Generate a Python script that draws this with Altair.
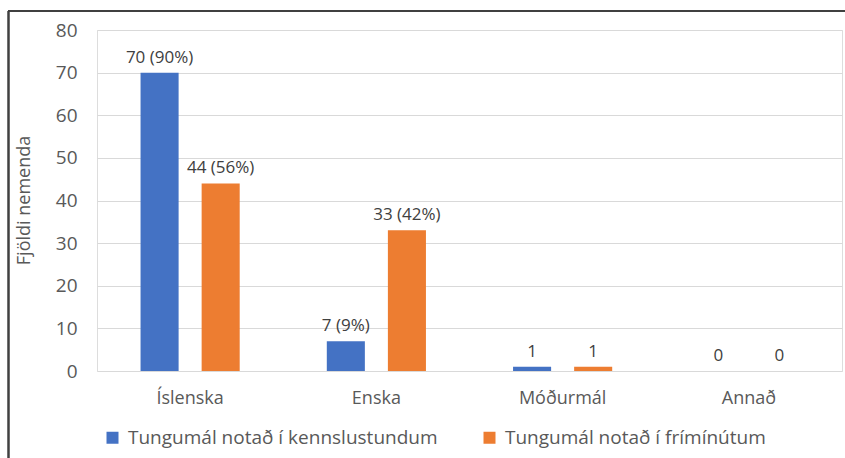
import altair as alt
import pandas as pd

# Languages asked about
categories = ["Íslenska", "Enska", "Móðurmál", "Annað"]
series = ["Tungumál notað í kennslustundum", "Tungumál notað í frímínútum"]

# Number of pupils per language, and share of pupils where reported
kennslustundum = [70, 7, 1, 0]
kennslustundum_pct = [90, 9, None, None]
friminutum = [44, 33, 1, 0]
friminutum_pct = [56, 42, None, None]

colors = ["#4472C4", "#ED7D31"]


def label(v, p):
    return f"{v} ({p}%)" if p is not None else f"{v}"


rows = []
for name, vals, pcts in [(series[0], kennslustundum, kennslustundum_pct),
                         (series[1], friminutum, friminutum_pct)]:
    for cat, v, p in zip(categories, vals, pcts):
        rows.append({"category": cat, "series": name, "value": v, "label": label(v, p)})
df = pd.DataFrame(rows)

FONT = "Open Sans"

x_enc = alt.X("category:N", sort=categories, title=None,
              scale=alt.Scale(paddingInner=0, paddingOuter=0),
              axis=alt.Axis(labelAngle=0, labelFontSize=18, labelColor="#595959",
                            labelPadding=18, domain=False, ticks=False, grid=False,
                            labelFont=FONT))
xo_enc = alt.XOffset("series:N", sort=series,
                     scale=alt.Scale(paddingInner=0.377, paddingOuter=0.713))
y_enc = alt.Y("value:Q", title="Fjöldi nemenda",
              scale=alt.Scale(domain=[0, 80], nice=False),
              axis=alt.Axis(values=list(range(0, 81, 10)), labelFontSize=19,
                            labelColor="#595959", labelPadding=20, domain=False,
                            ticks=False, gridColor="#D9D9D9", gridWidth=1,
                            titleFontSize=18, titleColor="#595959",
                            titleFontWeight="normal", titleFont=FONT,
                            labelFont=FONT, titleX=-73, titleY=170,
                            titleAlign="center", titleBaseline="middle",
                            titleAngle=270))

bars = alt.Chart(df).mark_bar().encode(
    x=x_enc,
    xOffset=xo_enc,
    y=y_enc,
    color=alt.Color("series:N", sort=series,
                    scale=alt.Scale(domain=series, range=colors),
                    legend=alt.Legend(title=None, orient="none", direction="horizontal",
                                      legendX=6, legendY=398, symbolType="square",
                                      symbolSize=144, symbolStrokeWidth=0,
                                      labelFontSize=19, labelColor="#595959",
                                      labelFont=FONT, labelOffset=6,
                                      columnPadding=42, labelLimit=400)),
)

texts = alt.Chart(df).mark_text(baseline="alphabetic", dy=-10, fontSize=17,
                                color="#404040", font=FONT).encode(
    x=alt.X("category:N", sort=categories),
    xOffset=alt.XOffset("series:N", sort=series),
    y=alt.Y("value:Q"),
    text="label:N",
)

# Frame lines along the top and left edge of the figure
frame_src = alt.Data(values=[{}])
top_line = alt.Chart(frame_src).mark_rule(color="#404040", strokeWidth=2).encode(
    x=alt.value(-89), x2=alt.value(760), y=alt.value(-19))
left_line = alt.Chart(frame_src).mark_rule(color="#404040", strokeWidth=2.5).encode(
    x=alt.value(-88.5), y=alt.value(-19), y2=alt.value(440))

chart = alt.layer(bars, texts, top_line, left_line).properties(
    width=745, height=341,
    autosize=alt.AutoSizeParams(type="none"),
    padding={"left": 97, "top": 30, "right": 3, "bottom": 87},
    background="white",
).configure_view(stroke=None).configure(font=FONT)

chart.save("out.html", embed_options={"renderer": "svg", "actions": False})
